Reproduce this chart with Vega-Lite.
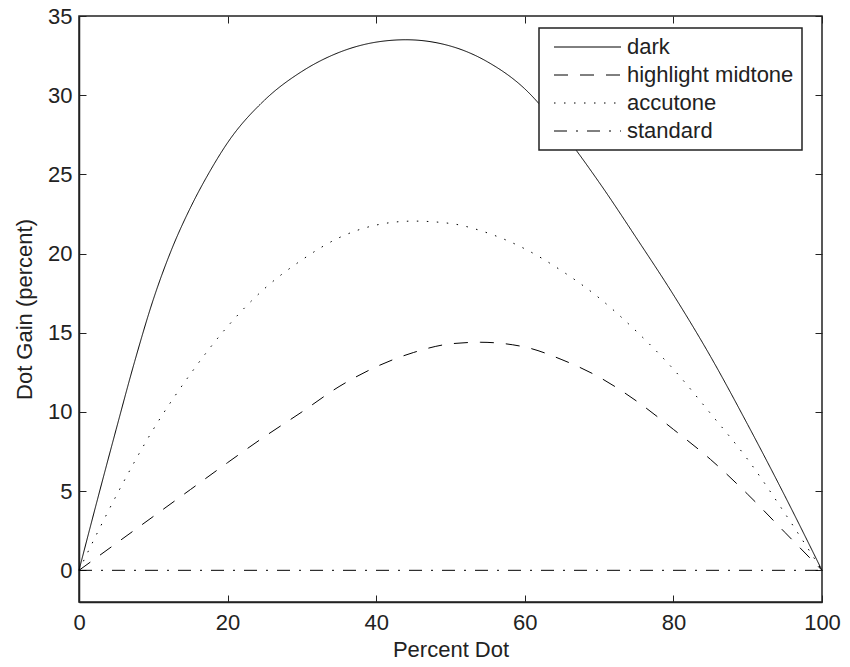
{
  "$schema": "https://vega.github.io/schema/vega-lite/v6.json",
  "autosize": "none",
  "width": 743,
  "height": 586,
  "padding": {"left": 79, "top": 16, "right": 28, "bottom": 65},
  "background": "white",
  "config": {
    "font": "Liberation Sans",
    "view": {"stroke": "#222", "strokeWidth": 1.5},
    "axis": {
      "domainColor": "#222", "domainWidth": 1.5,
      "tickColor": "#222", "tickSize": 7, "tickWidth": 1,
      "labelFont": "Liberation Sans", "labelFontSize": 22, "labelColor": "#222",
      "titleFont": "Liberation Sans", "titleFontSize": 22, "titleFontWeight": "normal", "titleColor": "#222",
      "grid": false
    }
  },
  "data": {"values": [
    {"x": 0, "v": 0, "s": "dark"},
    {"x": 2.5, "v": 4.5, "s": "dark"},
    {"x": 5, "v": 8.9, "s": "dark"},
    {"x": 7.5, "v": 13.2, "s": "dark"},
    {"x": 10, "v": 17.1, "s": "dark"},
    {"x": 12.5, "v": 20.3, "s": "dark"},
    {"x": 15, "v": 22.9, "s": "dark"},
    {"x": 17.5, "v": 25.1, "s": "dark"},
    {"x": 20, "v": 27.0, "s": "dark"},
    {"x": 25, "v": 29.7, "s": "dark"},
    {"x": 30, "v": 31.5, "s": "dark"},
    {"x": 35, "v": 32.7, "s": "dark"},
    {"x": 40, "v": 33.35, "s": "dark"},
    {"x": 44, "v": 33.5, "s": "dark"},
    {"x": 50, "v": 33.1, "s": "dark"},
    {"x": 55, "v": 32.1, "s": "dark"},
    {"x": 60, "v": 30.4, "s": "dark"},
    {"x": 65, "v": 27.7, "s": "dark"},
    {"x": 70, "v": 24.5, "s": "dark"},
    {"x": 75, "v": 21.0, "s": "dark"},
    {"x": 80, "v": 17.4, "s": "dark"},
    {"x": 85, "v": 13.5, "s": "dark"},
    {"x": 90, "v": 9.2, "s": "dark"},
    {"x": 95, "v": 4.7, "s": "dark"},
    {"x": 100, "v": 0, "s": "dark"},

    {"x": 0, "v": 0, "s": "highlight midtone"},
    {"x": 5, "v": 1.7, "s": "highlight midtone"},
    {"x": 10, "v": 3.4, "s": "highlight midtone"},
    {"x": 15, "v": 5.1, "s": "highlight midtone"},
    {"x": 20, "v": 6.8, "s": "highlight midtone"},
    {"x": 25, "v": 8.45, "s": "highlight midtone"},
    {"x": 30, "v": 10.0, "s": "highlight midtone"},
    {"x": 35, "v": 11.6, "s": "highlight midtone"},
    {"x": 40, "v": 12.85, "s": "highlight midtone"},
    {"x": 45, "v": 13.75, "s": "highlight midtone"},
    {"x": 50, "v": 14.3, "s": "highlight midtone"},
    {"x": 54, "v": 14.4, "s": "highlight midtone"},
    {"x": 60, "v": 14.1, "s": "highlight midtone"},
    {"x": 65, "v": 13.3, "s": "highlight midtone"},
    {"x": 70, "v": 12.2, "s": "highlight midtone"},
    {"x": 75, "v": 10.7, "s": "highlight midtone"},
    {"x": 80, "v": 8.9, "s": "highlight midtone"},
    {"x": 85, "v": 7.0, "s": "highlight midtone"},
    {"x": 90, "v": 4.8, "s": "highlight midtone"},
    {"x": 95, "v": 2.4, "s": "highlight midtone"},
    {"x": 100, "v": 0, "s": "highlight midtone"},

    {"x": 0, "v": 0, "s": "accutone"},
    {"x": 2.5, "v": 2.4, "s": "accutone"},
    {"x": 5, "v": 4.7, "s": "accutone"},
    {"x": 10, "v": 8.9, "s": "accutone"},
    {"x": 15, "v": 12.4, "s": "accutone"},
    {"x": 20, "v": 15.4, "s": "accutone"},
    {"x": 25, "v": 17.8, "s": "accutone"},
    {"x": 30, "v": 19.6, "s": "accutone"},
    {"x": 35, "v": 21.0, "s": "accutone"},
    {"x": 40, "v": 21.8, "s": "accutone"},
    {"x": 45, "v": 22.05, "s": "accutone"},
    {"x": 50, "v": 21.9, "s": "accutone"},
    {"x": 55, "v": 21.3, "s": "accutone"},
    {"x": 60, "v": 20.3, "s": "accutone"},
    {"x": 65, "v": 18.9, "s": "accutone"},
    {"x": 70, "v": 17.2, "s": "accutone"},
    {"x": 75, "v": 15.1, "s": "accutone"},
    {"x": 80, "v": 12.7, "s": "accutone"},
    {"x": 85, "v": 9.9, "s": "accutone"},
    {"x": 90, "v": 7.0, "s": "accutone"},
    {"x": 95, "v": 3.6, "s": "accutone"},
    {"x": 100, "v": 0, "s": "accutone"},

    {"x": 0, "v": 0, "s": "standard"},
    {"x": 100, "v": 0, "s": "standard"}
  ]},
  "encoding": {
    "x": {"field": "x", "type": "quantitative", "scale": {"domain": [0, 100], "nice": false, "zero": false}},
    "y": {"field": "v", "type": "quantitative", "scale": {"domain": [-2, 35], "nice": false, "zero": false}}
  },
  "layer": [
    {
      "mark": {"type": "line", "color": "black", "strokeWidth": 1, "interpolate": "monotone"},
      "encoding": {
        "x": {"field": "x", "type": "quantitative", "title": "Percent Dot",
              "axis": {"orient": "bottom", "values": [0, 20, 40, 60, 80, 100], "ticks": false, "labelFlush": false, "labelPadding": 10, "titlePadding": 6}},
        "y": {"field": "v", "type": "quantitative", "title": "Dot Gain (percent)",
              "axis": {"orient": "left", "values": [0, 5, 10, 15, 20, 25, 30, 35], "ticks": false, "labelPadding": 7, "titlePadding": 11}},
        "strokeDash": {
          "field": "s", "type": "nominal",
          "scale": {
            "domain": ["dark", "highlight midtone", "accutone", "standard"],
            "range": [[1, 0], [14, 12], [1.5, 8.5], [13, 9, 2, 9]]
          },
          "legend": {
            "title": null, "orient": "none", "legendX": 460, "legendY": 12,
            "fillColor": "white", "strokeColor": "#222",
            "padding": 8, "symbolType": "M-0.4,0H6.3", "symbolSize": 400,
            "symbolStrokeColor": "black", "symbolStrokeWidth": 1, "symbolFillColor": "transparent",
            "labelFontSize": 22, "labelColor": "#222", "labelOffset": 58, "labelLimit": 400, "rowPadding": 6,
            "labelFont": "Liberation Sans",
            "encode": {"legend": {"update": {"strokeWidth": {"value": 1.5}}}}
          }
        }
      }
    },
    {
      "mark": {"type": "line", "opacity": 0},
      "encoding": {
        "x": {"field": "x", "type": "quantitative",
              "axis": {"orient": "top", "offset": -586, "domain": false, "values": [0, 20, 40, 60, 80, 100], "labels": false, "title": null}},
        "y": {"field": "v", "type": "quantitative",
              "axis": {"orient": "right", "offset": -743, "domain": false, "values": [0, 5, 10, 15, 20, 25, 30, 35], "labels": false, "title": null}}
      }
    },
    {
      "mark": {"type": "line", "opacity": 0},
      "encoding": {
        "x": {"field": "x", "type": "quantitative",
              "axis": {"orient": "bottom", "offset": -586, "domain": false, "values": [0, 20, 40, 60, 80, 100], "labels": false, "title": null}},
        "y": {"field": "v", "type": "quantitative",
              "axis": {"orient": "left", "offset": -743, "domain": false, "values": [0, 5, 10, 15, 20, 25, 30, 35], "labels": false, "title": null}}
      }
    }
  ],
  "resolve": {"axis": {"x": "independent", "y": "independent"}}
}
